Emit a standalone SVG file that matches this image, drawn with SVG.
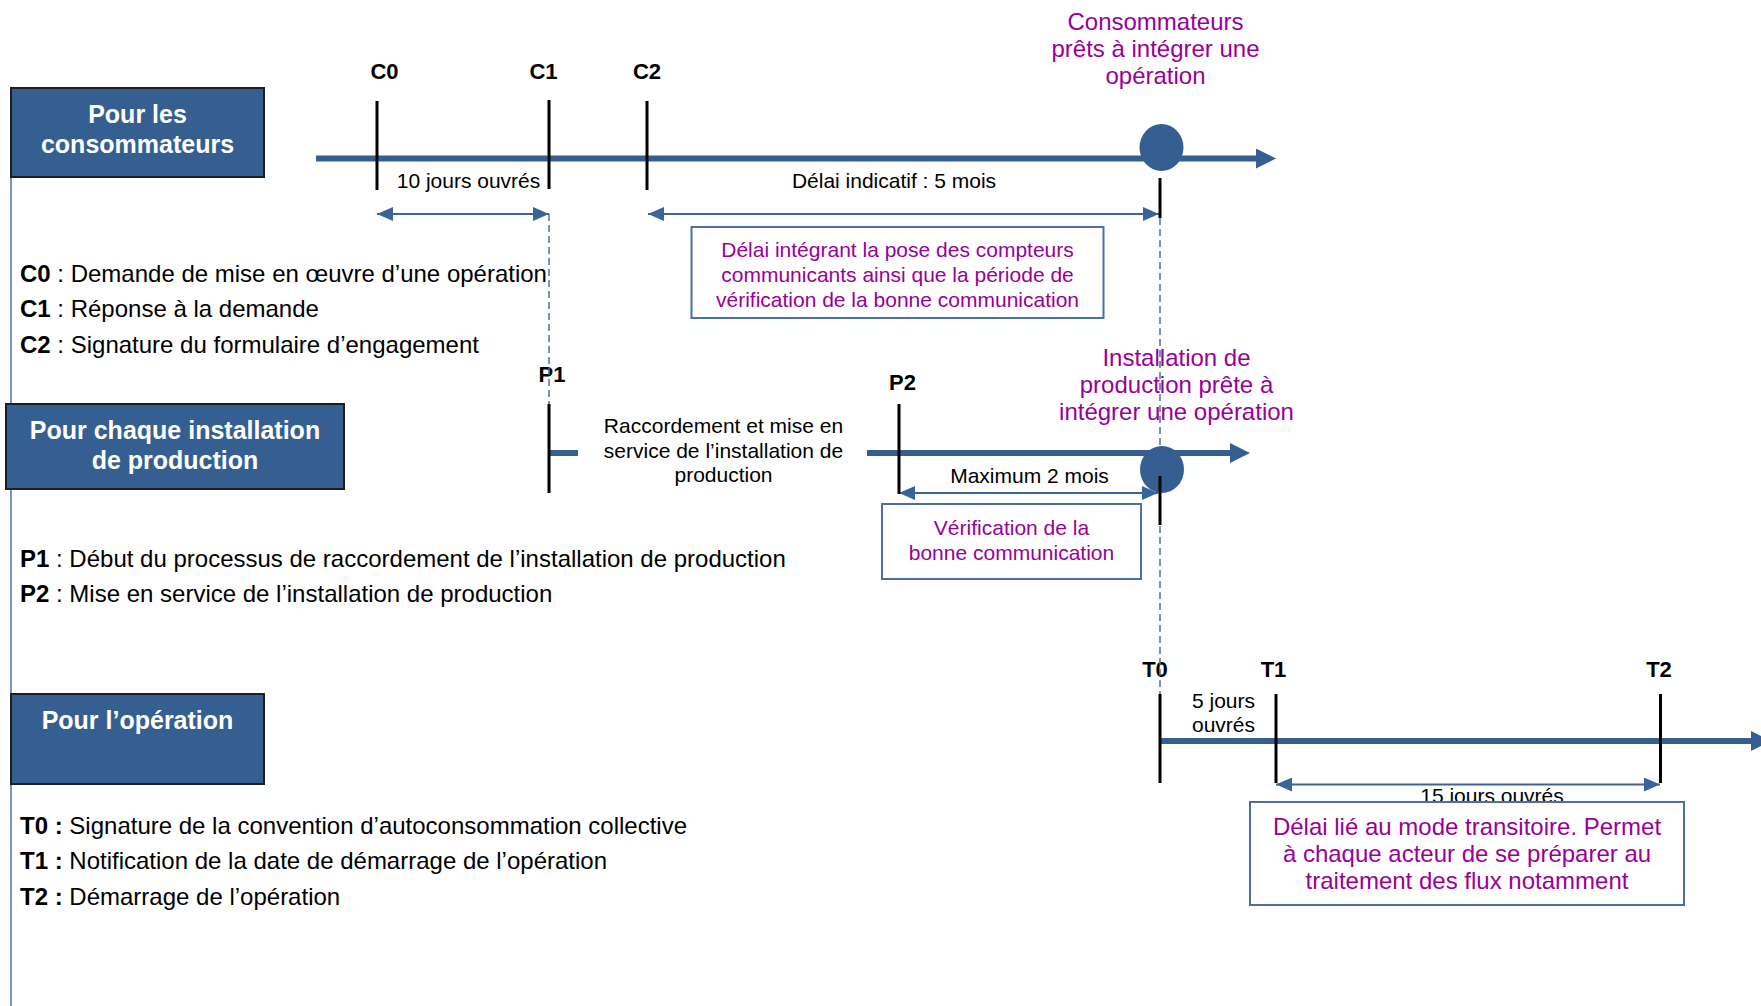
<svg xmlns="http://www.w3.org/2000/svg" width="1761" height="1006" viewBox="0 0 1761 1006">
<style>
  text { font-family: "Liberation Sans", Arial, sans-serif; }
  .hdr { fill: #ffffff; font-size: 25px; font-weight: bold; text-anchor: middle; }
  .hbox { fill: #365f91; stroke: #1e1e1e; stroke-width: 2; }
  .lbl { fill: #000; font-size: 22px; font-weight: bold; text-anchor: middle; }
  .dur { fill: #000; font-size: 21px; text-anchor: middle; }
  .pur { fill: #990099; font-size: 24px; text-anchor: middle; }
  .pur21 { fill: #990099; font-size: 21px; text-anchor: middle; }
  .leg { fill: #000; font-size: 24px; }
  .b { font-weight: bold; }
  .note { fill: #ffffff; stroke: #4a6fa5; stroke-width: 2; }
  .axis { stroke: #365f91; stroke-width: 6; fill: none; }
  .tick { stroke: #000; stroke-width: 3; }
  .span { stroke: #3a6399; stroke-width: 2; fill: none; }
  .dash { stroke: #4a72a8; stroke-width: 1.5; stroke-dasharray: 7 4; fill: none; }
  .mile { fill: #365f91; }
</style>
<defs>
  <marker id="big" markerUnits="userSpaceOnUse" markerWidth="20" markerHeight="20" refX="0" refY="10" orient="auto">
    <path d="M0,0 L20,10 L0,20 z" fill="#365f91"/>
  </marker>
  <marker id="ah" markerUnits="userSpaceOnUse" markerWidth="16" markerHeight="14" refX="16" refY="7" orient="auto-start-reverse">
    <path d="M0,0 L16,7 L0,14 z" fill="#3a6399"/>
  </marker>
</defs>
<rect x="0" y="0" width="1761" height="1006" fill="#ffffff"/>

<!-- left rail -->
<line x1="11" y1="88" x2="11" y2="1006" stroke="#4a72a8" stroke-width="1.5"/>

<!-- header nodes -->
<g id="hdr-consommateurs">
  <rect class="hbox" x="11" y="88" width="253" height="89"/>
  <text class="hdr" x="137.5" y="122.5">Pour les</text>
  <text class="hdr" x="137.5" y="152.5">consommateurs</text>
</g>
<g id="hdr-production">
  <rect class="hbox" x="6" y="404" width="338" height="85"/>
  <text class="hdr" x="175" y="439">Pour chaque installation</text>
  <text class="hdr" x="175" y="469">de production</text>
</g>
<g id="hdr-operation">
  <rect class="hbox" x="11" y="694" width="253" height="90"/>
  <text class="hdr" x="137.5" y="729">Pour l’opération</text>
</g>

<!-- legends -->
<g id="legend-c">
  <text class="leg" x="20" y="282"><tspan class="b">C0</tspan> : Demande de mise en œuvre d’une opération</text>
  <text class="leg" x="20" y="317"><tspan class="b">C1</tspan> : Réponse à la demande</text>
  <text class="leg" x="20" y="353"><tspan class="b">C2</tspan> : Signature du formulaire d’engagement</text>
</g>
<g id="legend-p">
  <text class="leg" x="20" y="566.5"><tspan class="b">P1</tspan> : Début du processus de raccordement de l’installation de production</text>
  <text class="leg" x="20" y="601.5"><tspan class="b">P2</tspan> : Mise en service de l’installation de production</text>
</g>
<g id="legend-t">
  <text class="leg" x="20" y="833.5"><tspan class="b">T0 :</tspan> Signature de la convention d’autoconsommation collective</text>
  <text class="leg" x="20" y="868.5"><tspan class="b">T1 :</tspan> Notification de la date de démarrage de l’opération</text>
  <text class="leg" x="20" y="905"><tspan class="b">T2 :</tspan> Démarrage de l’opération</text>
</g>

<!-- labels and annotations -->
<g id="labels">
  <text class="lbl" x="384.5" y="79">C0</text>
  <text class="lbl" x="543.5" y="79">C1</text>
  <text class="lbl" x="647" y="79">C2</text>
  <text class="lbl" x="552" y="382">P1</text>
  <text class="lbl" x="902.5" y="390">P2</text>
  <text class="lbl" x="1155" y="677">T0</text>
  <text class="lbl" x="1273.5" y="677">T1</text>
  <text class="lbl" x="1659" y="677">T2</text>
  <text class="dur" x="468.5" y="188">10 jours ouvrés</text>
  <text class="dur" x="894" y="188">Délai indicatif : 5 mois</text>
  <text class="dur" x="723.5" y="433">Raccordement et mise en</text>
  <text class="dur" x="723.5" y="458">service de l’installation de</text>
  <text class="dur" x="723.5" y="482">production</text>
  <text class="dur" x="1029.5" y="483">Maximum 2 mois</text>
  <text class="dur" x="1223.5" y="708">5 jours</text>
  <text class="dur" x="1223.5" y="732">ouvrés</text>
  <text class="dur" x="1492" y="803">15 jours ouvrés</text>
  <text class="pur" x="1155.5" y="30">Consommateurs</text>
  <text class="pur" x="1155.5" y="57">prêts à intégrer une</text>
  <text class="pur" x="1155.5" y="84">opération</text>
  <text class="pur" x="1176.5" y="366">Installation de</text>
  <text class="pur" x="1176.5" y="393">production prête à</text>
  <text class="pur" x="1176.5" y="420">intégrer une opération</text>
</g>

<!-- connectors -->
<g id="connectors">
  <line class="axis" x1="316" y1="158.5" x2="1256" y2="158.5" marker-end="url(#big)"/>
  <line class="axis" x1="550" y1="453" x2="578" y2="453"/>
  <line class="axis" x1="867" y1="453" x2="1230" y2="453" marker-end="url(#big)"/>
  <line class="axis" x1="1160" y1="741" x2="1751" y2="741" marker-end="url(#big)"/>
  <line class="dash" x1="549" y1="214" x2="549" y2="404"/>
  <line class="dash" x1="1160" y1="218" x2="1160" y2="694"/>
  <line class="span" x1="377" y1="214" x2="549" y2="214" marker-start="url(#ah)" marker-end="url(#ah)"/>
  <line class="span" x1="648" y1="214" x2="1159" y2="214" marker-start="url(#ah)" marker-end="url(#ah)"/>
  <line class="span" x1="899" y1="493" x2="1158" y2="493" marker-start="url(#ah)" marker-end="url(#ah)"/>
  <line class="span" x1="1276" y1="784.5" x2="1660" y2="784.5" marker-start="url(#ah)" marker-end="url(#ah)"/>
</g>

<!-- milestones -->
<g id="milestone-consommateurs">
  <ellipse class="mile" cx="1161.5" cy="147.5" rx="22" ry="23.5"/>
</g>
<g id="milestone-production">
  <ellipse class="mile" cx="1162" cy="469.5" rx="22" ry="23.5"/>
</g>

<!-- ticks -->
<g id="ticks">
  <line class="tick" x1="377" y1="101" x2="377" y2="190"/>
  <line class="tick" x1="549" y1="100" x2="549" y2="189"/>
  <line class="tick" x1="647" y1="101" x2="647" y2="190"/>
  <line class="tick" x1="1160" y1="178" x2="1160" y2="218"/>
  <line class="tick" x1="549" y1="404" x2="549" y2="493"/>
  <line class="tick" x1="899" y1="404" x2="899" y2="494"/>
  <line class="tick" x1="1160" y1="476" x2="1160" y2="525"/>
  <line class="tick" x1="1160" y1="694" x2="1160" y2="783"/>
  <line class="tick" x1="1276" y1="694" x2="1276" y2="783"/>
  <line class="tick" x1="1660.5" y1="694" x2="1660.5" y2="783"/>
</g>

<!-- note boxes -->
<g id="note-delai">
  <rect class="note" x="691.5" y="227" width="412" height="91"/>
  <text class="pur21" x="897.5" y="257">Délai intégrant la pose des compteurs</text>
  <text class="pur21" x="897.5" y="282">communicants ainsi que la période de</text>
  <text class="pur21" x="897.5" y="307">vérification de la bonne communication</text>
</g>
<g id="note-verification">
  <rect class="note" x="882" y="504" width="259" height="75"/>
  <text class="pur21" x="1011.5" y="535">Vérification de la</text>
  <text class="pur21" x="1011.5" y="560">bonne communication</text>
</g>
<g id="note-transitoire">
  <rect class="note" x="1250" y="802" width="434" height="103"/>
  <text class="pur" x="1467" y="834.5">Délai lié au mode transitoire. Permet</text>
  <text class="pur" x="1467" y="861.5">à chaque acteur de se préparer au</text>
  <text class="pur" x="1467" y="888.5">traitement des flux notamment</text>
</g>
</svg>
